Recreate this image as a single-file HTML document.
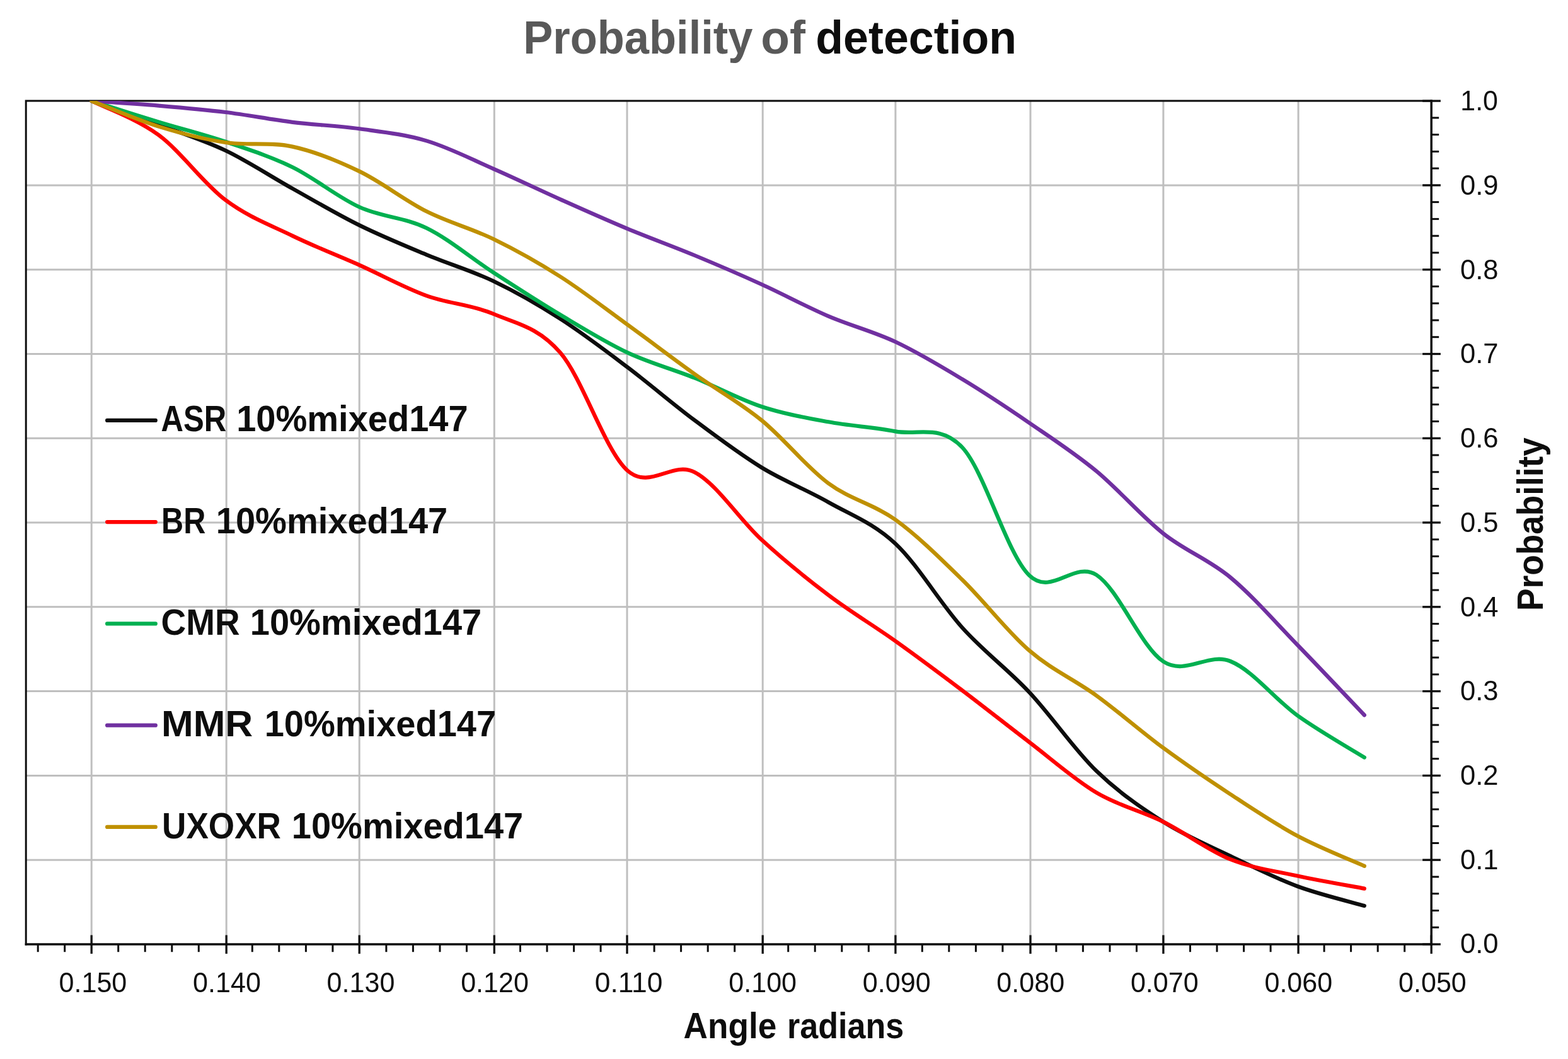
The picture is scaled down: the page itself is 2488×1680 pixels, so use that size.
<!DOCTYPE html>
<html lang="en"><head><meta charset="utf-8"><title>Probability of detection</title>
<style>
html,body{margin:0;padding:0;background:#fff;}
body{width:2488px;height:1680px;overflow:hidden;}
svg{display:block;}
text{font-family:"Liberation Sans",sans-serif;}
.b{font-weight:bold;}
</style></head><body>
<svg width="2488" height="1680" viewBox="0 0 2488 1680">
<rect x="0" y="0" width="2488" height="1680" fill="#ffffff"/>
<g stroke="#bfbfbf" stroke-width="3" fill="none">
<line x1="41.2" y1="293.9" x2="2271.2" y2="293.9"/>
<line x1="41.2" y1="427.7" x2="2271.2" y2="427.7"/>
<line x1="41.2" y1="561.5" x2="2271.2" y2="561.5"/>
<line x1="41.2" y1="695.3" x2="2271.2" y2="695.3"/>
<line x1="41.2" y1="829.0" x2="2271.2" y2="829.0"/>
<line x1="41.2" y1="962.8" x2="2271.2" y2="962.8"/>
<line x1="41.2" y1="1096.6" x2="2271.2" y2="1096.6"/>
<line x1="41.2" y1="1230.4" x2="2271.2" y2="1230.4"/>
<line x1="41.2" y1="1364.2" x2="2271.2" y2="1364.2"/>
<line x1="145.2" y1="160.1" x2="145.2" y2="1498.0"/>
<line x1="359.2" y1="160.1" x2="359.2" y2="1498.0"/>
<line x1="570.2" y1="160.1" x2="570.2" y2="1498.0"/>
<line x1="784.3" y1="160.1" x2="784.3" y2="1498.0"/>
<line x1="995.0" y1="160.1" x2="995.0" y2="1498.0"/>
<line x1="1210.2" y1="160.1" x2="1210.2" y2="1498.0"/>
<line x1="1420.9" y1="160.1" x2="1420.9" y2="1498.0"/>
<line x1="1635.0" y1="160.1" x2="1635.0" y2="1498.0"/>
<line x1="1845.9" y1="160.1" x2="1845.9" y2="1498.0"/>
<line x1="2060.1" y1="160.1" x2="2060.1" y2="1498.0"/>
</g>
<g stroke="#0d0d0d" stroke-width="3" fill="none">
<path d="M41.2,1499.7 L41.2,160.1 L2271.2,160.1"/>
</g>
<defs><clipPath id="pc"><rect x="41.2" y="160.1" width="2240.0" height="1337.9"/></clipPath></defs>
<g clip-path="url(#pc)" fill="none" stroke-width="6.2" stroke-linecap="round" stroke-linejoin="round">
<path stroke="#0d0d0d" d="M145.20,160.00 C162.92,166.32 216.07,184.77 251.50,197.90 C286.93,211.03 322.37,221.93 357.80,238.80 C393.23,255.67 428.67,279.33 464.10,299.10 C499.53,318.87 534.97,339.90 570.40,357.40 C605.83,374.90 641.27,389.33 676.70,404.10 C712.13,418.87 747.57,429.02 783.00,446.00 C818.43,462.98 853.87,483.25 889.30,506.00 C924.73,528.75 960.17,555.75 995.60,582.50 C1031.03,609.25 1066.47,640.00 1101.90,666.50 C1137.33,693.00 1172.77,719.80 1208.20,741.50 C1243.63,763.20 1279.07,776.53 1314.50,796.70 C1349.93,816.87 1385.37,829.28 1420.80,862.50 C1456.23,895.72 1491.67,956.70 1527.10,996.00 C1562.53,1035.30 1597.97,1060.47 1633.40,1098.30 C1668.83,1136.13 1704.27,1188.73 1739.70,1223.00 C1775.13,1257.27 1810.57,1281.40 1846.00,1303.90 C1881.43,1326.40 1916.87,1340.98 1952.30,1358.00 C1987.73,1375.02 2023.17,1392.85 2058.60,1406.00 C2094.03,1419.15 2147.18,1431.75 2164.90,1436.90"/>
<path stroke="#ff0000" d="M145.20,160.00 C162.92,169.00 216.07,187.78 251.50,214.00 C286.93,240.22 322.37,290.62 357.80,317.30 C393.23,343.98 428.67,356.88 464.10,374.10 C499.53,391.32 534.97,404.77 570.40,420.60 C605.83,436.43 641.27,456.20 676.70,469.10 C712.13,482.00 747.57,482.88 783.00,498.00 C818.43,513.12 853.87,518.38 889.30,559.80 C924.73,601.22 960.17,714.97 995.60,746.50 C1031.03,778.03 1066.47,730.75 1101.90,749.00 C1137.33,767.25 1172.77,823.50 1208.20,856.00 C1243.63,888.50 1279.07,917.17 1314.50,944.00 C1349.93,970.83 1385.37,991.75 1420.80,1017.00 C1456.23,1042.25 1491.67,1068.75 1527.10,1095.50 C1562.53,1122.25 1597.97,1150.52 1633.40,1177.50 C1668.83,1204.48 1704.27,1236.33 1739.70,1257.40 C1775.13,1278.47 1810.57,1286.27 1846.00,1303.90 C1881.43,1321.53 1916.87,1348.93 1952.30,1363.20 C1987.73,1377.47 2023.17,1381.77 2058.60,1389.50 C2094.03,1397.23 2147.18,1406.25 2164.90,1409.60"/>
<path stroke="#00b050" d="M145.20,160.00 C162.92,165.57 216.07,182.60 251.50,193.40 C286.93,204.20 322.37,212.83 357.80,224.80 C393.23,236.77 428.67,247.92 464.10,265.20 C499.53,282.48 534.97,312.42 570.40,328.50 C605.83,344.58 641.27,344.38 676.70,361.70 C712.13,379.02 747.57,409.43 783.00,432.40 C818.43,455.37 853.87,478.33 889.30,499.50 C924.73,520.67 960.17,542.75 995.60,559.40 C1031.03,576.05 1066.47,585.13 1101.90,599.40 C1137.33,613.67 1172.77,633.35 1208.20,645.00 C1243.63,656.65 1279.07,662.73 1314.50,669.30 C1349.93,675.87 1385.37,677.62 1420.80,684.40 C1456.23,691.18 1491.67,671.90 1527.10,710.00 C1562.53,748.10 1597.97,879.33 1633.40,913.00 C1668.83,946.67 1704.27,889.25 1739.70,912.00 C1775.13,934.75 1810.57,1026.67 1846.00,1049.50 C1881.43,1072.33 1916.87,1034.75 1952.30,1049.00 C1987.73,1063.25 2023.17,1109.57 2058.60,1135.00 C2094.03,1160.43 2147.18,1190.50 2164.90,1201.60"/>
<path stroke="#7030a0" d="M145.20,160.00 C162.92,161.27 216.07,164.60 251.50,167.60 C286.93,170.60 322.37,173.63 357.80,178.00 C393.23,182.37 428.67,189.42 464.10,193.80 C499.53,198.18 534.97,199.37 570.40,204.30 C605.83,209.23 641.27,212.82 676.70,223.40 C712.13,233.98 747.57,252.32 783.00,267.80 C818.43,283.28 853.87,300.47 889.30,316.30 C924.73,332.13 960.17,348.02 995.60,362.80 C1031.03,377.58 1066.47,390.30 1101.90,405.00 C1137.33,419.70 1172.77,434.90 1208.20,451.00 C1243.63,467.10 1279.07,486.38 1314.50,501.60 C1349.93,516.82 1385.37,525.62 1420.80,542.30 C1456.23,558.98 1491.67,580.25 1527.10,601.70 C1562.53,623.15 1597.97,646.72 1633.40,671.00 C1668.83,695.28 1704.27,718.15 1739.70,747.40 C1775.13,776.65 1810.57,818.40 1846.00,846.50 C1881.43,874.60 1916.87,886.58 1952.30,916.00 C1987.73,945.42 2023.17,986.58 2058.60,1023.00 C2094.03,1059.42 2147.18,1115.92 2164.90,1134.50"/>
<path stroke="#bf9000" d="M145.20,160.00 C162.92,166.77 216.07,189.60 251.50,200.60 C286.93,211.60 322.37,220.67 357.80,226.00 C393.23,231.33 428.67,224.95 464.10,232.60 C499.53,240.25 534.97,254.78 570.40,271.90 C605.83,289.02 641.27,317.40 676.70,335.30 C712.13,353.20 747.57,362.02 783.00,379.30 C818.43,396.58 853.87,416.38 889.30,439.00 C924.73,461.62 960.17,489.30 995.60,515.00 C1031.03,540.70 1066.47,567.95 1101.90,593.20 C1137.33,618.45 1172.77,637.58 1208.20,666.50 C1243.63,695.42 1279.07,740.35 1314.50,766.70 C1349.93,793.05 1385.37,799.05 1420.80,824.60 C1456.23,850.15 1491.67,885.40 1527.10,920.00 C1562.53,954.60 1597.97,1001.63 1633.40,1032.20 C1668.83,1062.77 1704.27,1077.67 1739.70,1103.40 C1775.13,1129.13 1810.57,1160.50 1846.00,1186.60 C1881.43,1212.70 1916.87,1236.77 1952.30,1260.00 C1987.73,1283.23 2023.17,1307.02 2058.60,1326.00 C2094.03,1344.98 2147.18,1365.92 2164.90,1373.90"/>
</g>
<g stroke="#0d0d0d" stroke-width="3.5" fill="none">
<line x1="39.7" y1="1498.0" x2="2272.9" y2="1498.0"/>
<line x1="2271.2" y1="158.3" x2="2271.2" y2="1499.8"/>
</g>
<g stroke="#0d0d0d" stroke-width="3.3" fill="none">
<line x1="145.2" y1="1483.5" x2="145.2" y2="1513.0"/>
<line x1="359.2" y1="1483.5" x2="359.2" y2="1513.0"/>
<line x1="570.2" y1="1483.5" x2="570.2" y2="1513.0"/>
<line x1="784.3" y1="1483.5" x2="784.3" y2="1513.0"/>
<line x1="995.0" y1="1483.5" x2="995.0" y2="1513.0"/>
<line x1="1210.2" y1="1483.5" x2="1210.2" y2="1513.0"/>
<line x1="1420.9" y1="1483.5" x2="1420.9" y2="1513.0"/>
<line x1="1635.0" y1="1483.5" x2="1635.0" y2="1513.0"/>
<line x1="1845.9" y1="1483.5" x2="1845.9" y2="1513.0"/>
<line x1="2060.1" y1="1483.5" x2="2060.1" y2="1513.0"/>
<line x1="2271.2" y1="1483.5" x2="2271.2" y2="1513.0"/>
<line x1="2257.2" y1="160.1" x2="2285.9" y2="160.1"/>
<line x1="2257.2" y1="293.9" x2="2285.9" y2="293.9"/>
<line x1="2257.2" y1="427.7" x2="2285.9" y2="427.7"/>
<line x1="2257.2" y1="561.5" x2="2285.9" y2="561.5"/>
<line x1="2257.2" y1="695.3" x2="2285.9" y2="695.3"/>
<line x1="2257.2" y1="829.0" x2="2285.9" y2="829.0"/>
<line x1="2257.2" y1="962.8" x2="2285.9" y2="962.8"/>
<line x1="2257.2" y1="1096.6" x2="2285.9" y2="1096.6"/>
<line x1="2257.2" y1="1230.4" x2="2285.9" y2="1230.4"/>
<line x1="2257.2" y1="1364.2" x2="2285.9" y2="1364.2"/>
<line x1="2257.2" y1="1498.0" x2="2285.9" y2="1498.0"/>
</g>
<g stroke="#0d0d0d" stroke-width="3" fill="none">
<line x1="60.2" y1="1498.0" x2="60.2" y2="1510.2"/>
<line x1="102.7" y1="1498.0" x2="102.7" y2="1510.2"/>
<line x1="187.7" y1="1498.0" x2="187.7" y2="1510.2"/>
<line x1="230.2" y1="1498.0" x2="230.2" y2="1510.2"/>
<line x1="272.8" y1="1498.0" x2="272.8" y2="1510.2"/>
<line x1="315.3" y1="1498.0" x2="315.3" y2="1510.2"/>
<line x1="400.3" y1="1498.0" x2="400.3" y2="1510.2"/>
<line x1="442.8" y1="1498.0" x2="442.8" y2="1510.2"/>
<line x1="485.4" y1="1498.0" x2="485.4" y2="1510.2"/>
<line x1="527.9" y1="1498.0" x2="527.9" y2="1510.2"/>
<line x1="612.9" y1="1498.0" x2="612.9" y2="1510.2"/>
<line x1="655.4" y1="1498.0" x2="655.4" y2="1510.2"/>
<line x1="698.0" y1="1498.0" x2="698.0" y2="1510.2"/>
<line x1="740.5" y1="1498.0" x2="740.5" y2="1510.2"/>
<line x1="825.5" y1="1498.0" x2="825.5" y2="1510.2"/>
<line x1="868.0" y1="1498.0" x2="868.0" y2="1510.2"/>
<line x1="910.6" y1="1498.0" x2="910.6" y2="1510.2"/>
<line x1="953.1" y1="1498.0" x2="953.1" y2="1510.2"/>
<line x1="1038.1" y1="1498.0" x2="1038.1" y2="1510.2"/>
<line x1="1080.6" y1="1498.0" x2="1080.6" y2="1510.2"/>
<line x1="1123.2" y1="1498.0" x2="1123.2" y2="1510.2"/>
<line x1="1165.7" y1="1498.0" x2="1165.7" y2="1510.2"/>
<line x1="1250.7" y1="1498.0" x2="1250.7" y2="1510.2"/>
<line x1="1293.2" y1="1498.0" x2="1293.2" y2="1510.2"/>
<line x1="1335.8" y1="1498.0" x2="1335.8" y2="1510.2"/>
<line x1="1378.3" y1="1498.0" x2="1378.3" y2="1510.2"/>
<line x1="1463.3" y1="1498.0" x2="1463.3" y2="1510.2"/>
<line x1="1505.8" y1="1498.0" x2="1505.8" y2="1510.2"/>
<line x1="1548.4" y1="1498.0" x2="1548.4" y2="1510.2"/>
<line x1="1590.9" y1="1498.0" x2="1590.9" y2="1510.2"/>
<line x1="1675.9" y1="1498.0" x2="1675.9" y2="1510.2"/>
<line x1="1718.4" y1="1498.0" x2="1718.4" y2="1510.2"/>
<line x1="1761.0" y1="1498.0" x2="1761.0" y2="1510.2"/>
<line x1="1803.5" y1="1498.0" x2="1803.5" y2="1510.2"/>
<line x1="1888.5" y1="1498.0" x2="1888.5" y2="1510.2"/>
<line x1="1931.0" y1="1498.0" x2="1931.0" y2="1510.2"/>
<line x1="1973.6" y1="1498.0" x2="1973.6" y2="1510.2"/>
<line x1="2016.1" y1="1498.0" x2="2016.1" y2="1510.2"/>
<line x1="2101.1" y1="1498.0" x2="2101.1" y2="1510.2"/>
<line x1="2143.6" y1="1498.0" x2="2143.6" y2="1510.2"/>
<line x1="2186.2" y1="1498.0" x2="2186.2" y2="1510.2"/>
<line x1="2228.7" y1="1498.0" x2="2228.7" y2="1510.2"/>
<line x1="2271.2" y1="186.9" x2="2283.2" y2="186.9"/>
<line x1="2271.2" y1="213.6" x2="2283.2" y2="213.6"/>
<line x1="2271.2" y1="240.4" x2="2283.2" y2="240.4"/>
<line x1="2271.2" y1="267.1" x2="2283.2" y2="267.1"/>
<line x1="2271.2" y1="320.6" x2="2283.2" y2="320.6"/>
<line x1="2271.2" y1="347.4" x2="2283.2" y2="347.4"/>
<line x1="2271.2" y1="374.2" x2="2283.2" y2="374.2"/>
<line x1="2271.2" y1="400.9" x2="2283.2" y2="400.9"/>
<line x1="2271.2" y1="454.4" x2="2283.2" y2="454.4"/>
<line x1="2271.2" y1="481.2" x2="2283.2" y2="481.2"/>
<line x1="2271.2" y1="508.0" x2="2283.2" y2="508.0"/>
<line x1="2271.2" y1="534.7" x2="2283.2" y2="534.7"/>
<line x1="2271.2" y1="588.2" x2="2283.2" y2="588.2"/>
<line x1="2271.2" y1="615.0" x2="2283.2" y2="615.0"/>
<line x1="2271.2" y1="641.7" x2="2283.2" y2="641.7"/>
<line x1="2271.2" y1="668.5" x2="2283.2" y2="668.5"/>
<line x1="2271.2" y1="722.0" x2="2283.2" y2="722.0"/>
<line x1="2271.2" y1="748.8" x2="2283.2" y2="748.8"/>
<line x1="2271.2" y1="775.5" x2="2283.2" y2="775.5"/>
<line x1="2271.2" y1="802.3" x2="2283.2" y2="802.3"/>
<line x1="2271.2" y1="855.8" x2="2283.2" y2="855.8"/>
<line x1="2271.2" y1="882.6" x2="2283.2" y2="882.6"/>
<line x1="2271.2" y1="909.3" x2="2283.2" y2="909.3"/>
<line x1="2271.2" y1="936.1" x2="2283.2" y2="936.1"/>
<line x1="2271.2" y1="989.6" x2="2283.2" y2="989.6"/>
<line x1="2271.2" y1="1016.4" x2="2283.2" y2="1016.4"/>
<line x1="2271.2" y1="1043.1" x2="2283.2" y2="1043.1"/>
<line x1="2271.2" y1="1069.9" x2="2283.2" y2="1069.9"/>
<line x1="2271.2" y1="1123.4" x2="2283.2" y2="1123.4"/>
<line x1="2271.2" y1="1150.1" x2="2283.2" y2="1150.1"/>
<line x1="2271.2" y1="1176.9" x2="2283.2" y2="1176.9"/>
<line x1="2271.2" y1="1203.7" x2="2283.2" y2="1203.7"/>
<line x1="2271.2" y1="1257.2" x2="2283.2" y2="1257.2"/>
<line x1="2271.2" y1="1283.9" x2="2283.2" y2="1283.9"/>
<line x1="2271.2" y1="1310.7" x2="2283.2" y2="1310.7"/>
<line x1="2271.2" y1="1337.5" x2="2283.2" y2="1337.5"/>
<line x1="2271.2" y1="1391.0" x2="2283.2" y2="1391.0"/>
<line x1="2271.2" y1="1417.7" x2="2283.2" y2="1417.7"/>
<line x1="2271.2" y1="1444.5" x2="2283.2" y2="1444.5"/>
<line x1="2271.2" y1="1471.2" x2="2283.2" y2="1471.2"/>
</g>
<text x="93.50" y="1574.40" font-size="45.00px" fill="#0d0d0d" textLength="107.80" lengthAdjust="spacingAndGlyphs">0.150</text>
<text x="306.05" y="1574.40" font-size="45.00px" fill="#0d0d0d" textLength="107.80" lengthAdjust="spacingAndGlyphs">0.140</text>
<text x="518.60" y="1574.40" font-size="45.00px" fill="#0d0d0d" textLength="107.80" lengthAdjust="spacingAndGlyphs">0.130</text>
<text x="731.15" y="1574.40" font-size="45.00px" fill="#0d0d0d" textLength="107.80" lengthAdjust="spacingAndGlyphs">0.120</text>
<text x="943.70" y="1574.40" font-size="45.00px" fill="#0d0d0d" textLength="107.80" lengthAdjust="spacingAndGlyphs">0.110</text>
<text x="1156.25" y="1574.40" font-size="45.00px" fill="#0d0d0d" textLength="107.80" lengthAdjust="spacingAndGlyphs">0.100</text>
<text x="1368.80" y="1574.40" font-size="45.00px" fill="#0d0d0d" textLength="107.80" lengthAdjust="spacingAndGlyphs">0.090</text>
<text x="1581.35" y="1574.40" font-size="45.00px" fill="#0d0d0d" textLength="107.80" lengthAdjust="spacingAndGlyphs">0.080</text>
<text x="1793.90" y="1574.40" font-size="45.00px" fill="#0d0d0d" textLength="107.80" lengthAdjust="spacingAndGlyphs">0.070</text>
<text x="2006.45" y="1574.40" font-size="45.00px" fill="#0d0d0d" textLength="107.80" lengthAdjust="spacingAndGlyphs">0.060</text>
<text x="2219.00" y="1574.40" font-size="45.00px" fill="#0d0d0d" textLength="107.80" lengthAdjust="spacingAndGlyphs">0.050</text>
<text x="2317.30" y="175.35" font-size="44.90px" fill="#0d0d0d" textLength="59.60" lengthAdjust="spacingAndGlyphs">1.0</text>
<text x="2317.00" y="309.05" font-size="44.90px" fill="#0d0d0d" textLength="60.60" lengthAdjust="spacingAndGlyphs">0.9</text>
<text x="2317.00" y="442.75" font-size="44.90px" fill="#0d0d0d" textLength="60.60" lengthAdjust="spacingAndGlyphs">0.8</text>
<text x="2317.00" y="576.45" font-size="44.90px" fill="#0d0d0d" textLength="60.60" lengthAdjust="spacingAndGlyphs">0.7</text>
<text x="2317.00" y="710.15" font-size="44.90px" fill="#0d0d0d" textLength="60.60" lengthAdjust="spacingAndGlyphs">0.6</text>
<text x="2317.00" y="843.85" font-size="44.90px" fill="#0d0d0d" textLength="60.60" lengthAdjust="spacingAndGlyphs">0.5</text>
<text x="2317.00" y="977.55" font-size="44.90px" fill="#0d0d0d" textLength="60.60" lengthAdjust="spacingAndGlyphs">0.4</text>
<text x="2317.00" y="1111.25" font-size="44.90px" fill="#0d0d0d" textLength="60.60" lengthAdjust="spacingAndGlyphs">0.3</text>
<text x="2317.00" y="1244.95" font-size="44.90px" fill="#0d0d0d" textLength="60.60" lengthAdjust="spacingAndGlyphs">0.2</text>
<text x="2317.00" y="1378.65" font-size="44.90px" fill="#0d0d0d" textLength="60.60" lengthAdjust="spacingAndGlyphs">0.1</text>
<text x="2317.00" y="1512.35" font-size="44.90px" fill="#0d0d0d" textLength="60.60" lengthAdjust="spacingAndGlyphs">0.0</text>
<text class="b" x="830.30" y="84.80" font-size="74.00px" fill="#595959" textLength="364.20" lengthAdjust="spacingAndGlyphs">Probability</text>
<text class="b" x="1207.20" y="84.80" font-size="74.00px" fill="#595959" textLength="70.70" lengthAdjust="spacingAndGlyphs">of</text>
<text class="b" x="1294.30" y="84.80" font-size="74.00px" fill="#0d0d0d" textLength="318.80" lengthAdjust="spacingAndGlyphs">detection</text>
<text class="b" x="1084.60" y="1646.50" font-size="57.10px" fill="#0d0d0d" textLength="147.70" lengthAdjust="spacingAndGlyphs">Angle</text>
<text class="b" x="1249.00" y="1646.50" font-size="57.10px" fill="#0d0d0d" textLength="185.30" lengthAdjust="spacingAndGlyphs">radians</text>
<text class="b" transform="translate(2448.00,969.00) rotate(-90)" font-size="56.50px" fill="#0d0d0d" textLength="274.80" lengthAdjust="spacingAndGlyphs">Probability</text>
<g fill="none" stroke-width="6.2" stroke-linecap="round">
<line x1="170.1" y1="666.9" x2="246.8" y2="666.9" stroke="#0d0d0d"/>
<line x1="170.1" y1="828.1" x2="246.8" y2="828.1" stroke="#ff0000"/>
<line x1="170.1" y1="989.4" x2="246.8" y2="989.4" stroke="#00b050"/>
<line x1="170.1" y1="1150.7" x2="246.8" y2="1150.7" stroke="#7030a0"/>
<line x1="170.1" y1="1311.9" x2="246.8" y2="1311.9" stroke="#bf9000"/>
</g>
<text class="b" font-size="57.10px" fill="#0d0d0d" y="684.20"><tspan x="255.50" textLength="103.80" lengthAdjust="spacingAndGlyphs">ASR</tspan><tspan x="359.60" textLength="383.10" lengthAdjust="spacingAndGlyphs"> 10%mixed147</tspan></text>
<text class="b" font-size="57.10px" fill="#0d0d0d" y="845.55"><tspan x="256.00" textLength="70.30" lengthAdjust="spacingAndGlyphs">BR</tspan><tspan x="327.20" textLength="383.10" lengthAdjust="spacingAndGlyphs"> 10%mixed147</tspan></text>
<text class="b" font-size="57.10px" fill="#0d0d0d" y="1006.90"><tspan x="255.60" textLength="125.10" lengthAdjust="spacingAndGlyphs">CMR</tspan><tspan x="381.20" textLength="383.10" lengthAdjust="spacingAndGlyphs"> 10%mixed147</tspan></text>
<text class="b" font-size="57.10px" fill="#0d0d0d" y="1168.25"><tspan x="256.00" textLength="145.30" lengthAdjust="spacingAndGlyphs">MMR</tspan><tspan x="404.10" textLength="383.10" lengthAdjust="spacingAndGlyphs"> 10%mixed147</tspan></text>
<text class="b" font-size="57.10px" fill="#0d0d0d" y="1329.60"><tspan x="257.00" textLength="189.00" lengthAdjust="spacingAndGlyphs">UXOXR</tspan><tspan x="447.20" textLength="383.10" lengthAdjust="spacingAndGlyphs"> 10%mixed147</tspan></text>
</svg>
</body></html>
